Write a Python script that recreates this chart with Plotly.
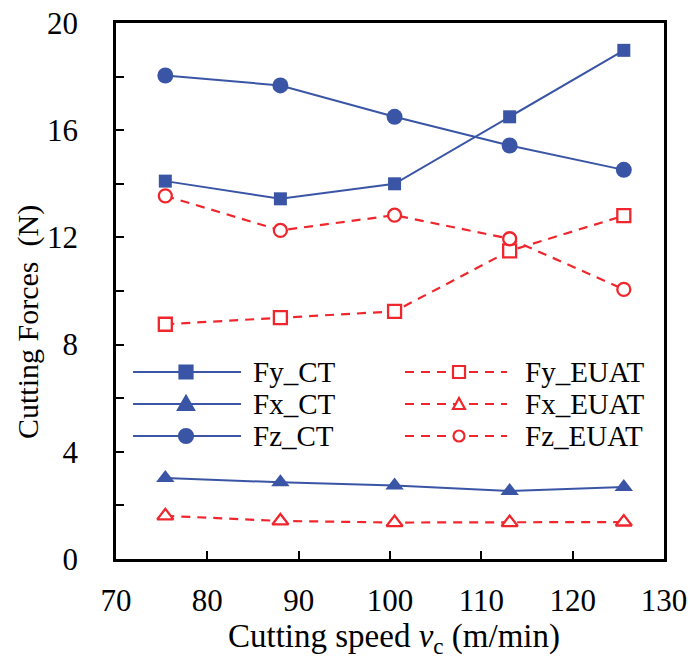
import plotly.graph_objects as go

speed = [75.4, 88.0, 100.5, 113.1, 125.6]

fy_ct = [14.1, 13.44, 14.0, 16.5, 18.98]
fx_ct = [3.02, 2.86, 2.74, 2.54, 2.69]
fz_ct = [18.04, 17.67, 16.5, 15.43, 14.52]

fy_euat = [8.76, 9.01, 9.24, 11.5, 12.81]
fx_euat = [1.61, 1.42, 1.36, 1.36, 1.38]
fz_euat = [13.55, 12.26, 12.83, 11.95, 10.06]

x_ticks = [70, 80, 90, 100, 110, 120, 130]
y_ticks = [0, 2, 4, 6, 8, 10, 12, 14, 16, 18, 20]
y_labels = ["0", " ", "4", " ", "8", " ", "12", " ", "16", " ", "20"]

BLUE = "#3A55A5"
RED = "#F0262D"
FONT = "Liberation Serif"
DASH = "9px,7px"

W, H = 690, 662
L, R, T, B = 116, 26, 23, 103
PW, PH = W - L - R, H - T - B


def px(x):
    return (x - L) / PW


def py(y):
    return (H - B - y) / PH


fig = go.Figure()

ct_series = [("Fy_CT", fy_ct, "square", 13), ("Fx_CT", fx_ct, "triangle-up", 16), ("Fz_CT", fz_ct, "circle", 16)]
eu_series = [("Fy_EUAT", fy_euat, "square", 13), ("Fx_EUAT", fx_euat, "triangle-up", 14), ("Fz_EUAT", fz_euat, "circle", 13)]

for name, vals, sym, sz in ct_series:
    fig.add_trace(go.Scatter(
        x=speed, y=vals, name=name, mode="lines+markers", showlegend=False,
        line=dict(color=BLUE, width=2),
        marker=dict(symbol=sym, size=sz, color=BLUE),
    ))

for name, vals, sym, sz in eu_series:
    fig.add_trace(go.Scatter(
        x=speed, y=vals, name=name, mode="lines+markers", showlegend=False,
        line=dict(color=RED, width=2.2, dash=DASH),
        marker=dict(symbol=sym, size=sz, color="white", line=dict(color=RED, width=2.3)),
    ))

# ---- hand-drawn legend (two columns) ----
shapes = []
annos = []
rows_y = [372, 404, 436]
cols = [
    dict(x0=133, x1=241, xm=186, xt=251, color=BLUE, dash="solid", fill=BLUE, series=ct_series),
    dict(x0=405, x1=507, xm=459, xt=523, color=RED, dash=DASH, fill="white", series=eu_series),
]
for col in cols:
    for (name, _, sym, _sz), ry in zip(col["series"], rows_y):
        shapes.append(dict(type="line", xref="paper", yref="paper",
                           x0=px(col["x0"]), x1=px(col["x1"]), y0=py(ry), y1=py(ry),
                           line=dict(color=col["color"], width=2.2, dash=col["dash"])))
        common = dict(xref="paper", yref="paper", xsizemode="pixel", ysizemode="pixel",
                      xanchor=px(col["xm"]), yanchor=py(ry),
                      fillcolor=col["fill"], line=dict(color=col["color"], width=2.2))
        solid = col["fill"] != "white"
        if sym == "square":
            s = 6.5 if solid else 6
            shapes.append(dict(type="rect", x0=-s, x1=s, y0=-s, y1=s, **common))
        elif sym == "circle":
            s = 7 if solid else 5.5
            shapes.append(dict(type="circle", x0=-s, x1=s, y0=-s, y1=s, **common))
        else:
            path = "M-8,-6 L8,-6 L0,8 Z" if solid else "M-6,-5 L6,-5 L0,6 Z"
            shapes.append(dict(type="path", path=path, **common))
        annos.append(dict(text=name, xref="paper", yref="paper", x=px(col["xt"]), y=py(ry),
                          xanchor="left", yanchor="middle", showarrow=False,
                          font=dict(family=FONT, size=29, color="black")))

# axis titles
annos.append(dict(text="Cutting speed <i>v</i><sub>c</sub> (m/min)", xref="paper", yref="paper",
                  x=px(394), y=py(638), xanchor="center", yanchor="middle", showarrow=False,
                  font=dict(family=FONT, size=33, color="black")))
annos.append(dict(text="Cutting Forces\u00a0\u00a0(N)", xref="paper", yref="paper", textangle=-90,
                  x=px(28), y=py(322), xanchor="center", yanchor="middle", showarrow=False,
                  font=dict(family=FONT, size=30, color="black")))

fig.update_layout(
    width=W, height=H,
    margin=dict(l=L, r=R, t=T, b=B, autoexpand=False),
    paper_bgcolor="white", plot_bgcolor="white",
    font=dict(family=FONT, size=30, color="black"),
    showlegend=False,
    shapes=shapes,
    annotations=annos,
)

fig.update_xaxes(
    range=[70, 130], tickvals=x_ticks, ticktext=[str(v) for v in x_ticks],
    ticks="inside", ticklen=8, tickwidth=2, tickcolor="black",
    showline=True, linewidth=2.5, linecolor="black", mirror=True,
    showgrid=False, zeroline=False, automargin=False,
    tickfont=dict(size=31, family=FONT, color="black"), ticklabelstandoff=12,
)
fig.update_yaxes(
    range=[0, 20], tickvals=y_ticks, ticktext=y_labels,
    ticks="inside", ticklen=8, tickwidth=2, tickcolor="black",
    showline=True, linewidth=2.5, linecolor="black", mirror=True,
    showgrid=False, zeroline=False, automargin=False,
    tickfont=dict(size=31, family=FONT, color="black"), ticklabelstandoff=29,
)

fig.write_html(
    "out.html",
    config={"displayModeBar": False},
    post_script="document.documentElement.style.margin='0';document.body.style.margin='0';document.body.style.overflow='hidden';",
)
